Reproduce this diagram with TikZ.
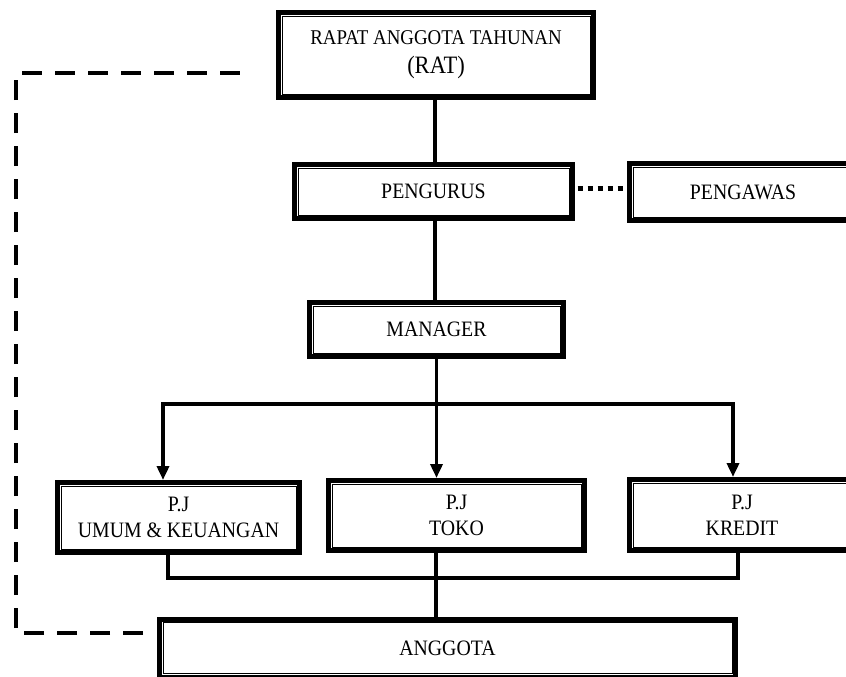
\documentclass[tikz,border=0pt]{standalone}
\usepackage{fontspec}
\setmainfont{Liberation Serif}[FakeStretch=0.9]
\usetikzlibrary{arrows.meta}
\begin{document}
\begin{tikzpicture}[x=1pt,y=-1pt,
  boxst/.style={draw, line width=5pt, rectangle, inner sep=0pt, align=center,
    font=\fontsize{22}{26}\selectfont},
  conn/.style={line width=3.5pt},
  arr/.style={line width=3.5pt, -{Triangle[length=14pt,width=12pt]}},
  dashline/.style={line width=4pt, dash pattern=on 20pt off 13pt},
  dotline/.style={line width=5pt, dash pattern=on 5.5pt off 4.5pt}]
\clip (0,0) rectangle (846,677);
\fill[white] (0,0) rectangle (846,677);

% boxes
\node[boxst, minimum width=315pt, minimum height=85pt] (rat) at (436,55)
  {{\fontsize{21}{25}\selectfont RAPAT ANGGOTA TAHUNAN}\\[3pt]{\fontsize{25}{27}\selectfont (RAT)}};
\node[boxst, minimum width=278pt, minimum height=54pt] (peng) at (433.5,191.5) {PENGURUS};
\node[boxst, minimum width=227pt, minimum height=57pt] (pengw) at (743,192) {PENGAWAS};
\node[boxst, minimum width=254pt, minimum height=54pt] (man) at (436.5,329.5) {MANAGER};
\node[boxst, minimum width=242pt, minimum height=70pt] (umum) at (178.5,517.5) {P.J\\UMUM \& KEUANGAN};
\node[boxst, minimum width=256pt, minimum height=70pt] (toko) at (456.5,515.5) {P.J\\TOKO};
\node[boxst, minimum width=225pt, minimum height=71pt] (kred) at (742,515) {P.J\\KREDIT};
\node[boxst, minimum width=576pt, minimum height=58pt] (ang) at (447.5,648) {ANGGOTA};

% inner thin borders
\foreach \n in {rat,peng,pengw,man,umum,toko,kred,ang}
  \draw[line width=0.9pt] ([shift={(6pt,-6pt)}]\n.north west) rectangle ([shift={(-6pt,6pt)}]\n.south east);

% spine connectors
\coordinate (sp) at (435,0);
\draw[conn] (rat.south -| sp) -- (peng.north -| sp);
\draw[conn] (peng.south -| sp) -- (man.north -| sp);

% distribution with arrows
\coordinate (hL) at (163,404);
\coordinate (hM) at (436.5,404);
\coordinate (hR) at (733,404);
\draw[conn] (man.south -| hM) -- (hM);
\draw[conn, line cap=butt] ([xshift=-1.75pt]hL) -- ([xshift=1.75pt]hR);
\draw[arr] ([yshift=1.75pt]hL) -- (umum.north -| hL);
\draw[arr] (hM) -- (toko.north -| hM);
\draw[arr] ([yshift=1.75pt]hR) -- (kred.north -| hR);

% collection to ANGGOTA
\coordinate (bL) at (168,578);
\coordinate (bM) at (436,578);
\coordinate (bR) at (738,578);
\draw[conn, line join=miter] (umum.south -| bL) -- (bL) -- (bR) -- (kred.south -| bR);
\draw[conn] (toko.south -| bM) -- (ang.north -| bM);

% dotted link PENGURUS -- PENGAWAS
\draw[dotline] ([xshift=2.5pt]peng.east |- 0,188) -- (pengw.west |- 0,188);

% dashed feedback line
\coordinate (dA) at (143,633);
\coordinate (dB) at (16,633);
\coordinate (dC) at (16,73);
\coordinate (dD) at (245,73);
\draw[dashline] (dA) -- (dB) -- (dC) -- (dD);
\end{tikzpicture}
\end{document}
